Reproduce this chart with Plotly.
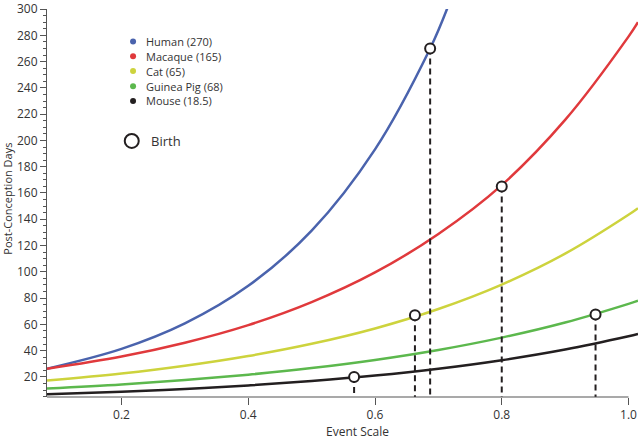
import plotly.graph_objects as go

# ---- data ----
x_vals = [0.0824, 0.2, 0.3, 0.4, 0.5, 0.6, 0.7, 0.8, 0.9, 1.0, 1.015]
human_x = [0.0824, 0.2, 0.3, 0.4, 0.5, 0.6, 0.687, 0.714]
human_y = [26.2, 41.3, 60.7, 89.3, 131.3, 193.2, 270.0, 300.5]
macaque_y = [26.2, 35.5, 46.0, 59.4, 76.9, 99.5, 128.8, 166.0, 215.6, 279.0, 290.0]
cat_y = [17.2, 22.6, 28.5, 35.9, 45.2, 56.9, 71.7, 90.3, 113.8, 143.4, 148.4]
guinea_y = [11.2, 14.3, 17.6, 21.7, 26.7, 32.9, 40.5, 49.9, 61.4, 75.6, 78.0]
mouse_y = [6.7, 8.7, 10.8, 13.5, 16.9, 21.0, 26.2, 32.7, 40.8, 50.9, 52.6]

species = ["Human (270)", "Macaque (165)", "Cat (65)", "Guinea Pig (68)", "Mouse (18.5)"]
colors = ["#4a63ad", "#e0393c", "#cdd33d", "#5cb84d", "#231f20"]

birth_x = [0.687, 0.800, 0.663, 0.948, 0.567]
birth_y = [270.0, 165.0, 67.0, 67.5, 20.0]

y_ticks = list(range(20, 301, 20))
x_ticks = [0.2, 0.4, 0.6, 0.8, 1.0]
x_range = [0.0824, 1.015]
y_range = [4.7, 300.05]

FONT = "Open Sans"
TXT = "#333333"

fig = go.Figure()

series = [(human_x, human_y), (x_vals, macaque_y), (x_vals, cat_y),
          (x_vals, guinea_y), (x_vals, mouse_y)]
for (xs, ys), c, name in zip(series, colors, species):
    fig.add_trace(go.Scatter(x=xs, y=ys, mode="lines", name=name,
                             line=dict(color=c, width=2.5, shape="spline", smoothing=1.0),
                             showlegend=False, hoverinfo="skip", cliponaxis=True))

# dashed drop lines from birth points to the axis
for bx, by in zip(birth_x, birth_y):
    fig.add_trace(go.Scatter(x=[bx, bx], y=[by, y_range[0]], mode="lines",
                             line=dict(color="#231f20", width=2, dash="6px,4px"),
                             showlegend=False, hoverinfo="skip"))

fig.add_trace(go.Scatter(x=birth_x, y=birth_y, mode="markers",
                         marker=dict(symbol="circle", size=10, color="white",
                                     line=dict(color="#231f20", width=2)),
                         showlegend=False, hoverinfo="skip", cliponaxis=False))

shapes = []
annotations = []
# custom legend
legend_y = [0.916, 0.878, 0.840, 0.801, 0.763]
for ly, c, name in zip(legend_y, colors, species):
    shapes.append(dict(type="circle", xref="paper", yref="paper",
                       xsizemode="pixel", ysizemode="pixel",
                       xanchor=0.1456, yanchor=ly, x0=-3, x1=3, y0=-3, y1=3,
                       fillcolor=c, line=dict(width=0)))
    annotations.append(dict(x=0.1634, y=ly, xref="paper", yref="paper",
                            text=name, showarrow=False, xanchor="left", yanchor="middle",
                            font=dict(family=FONT, size=11, color=TXT)))
shapes.append(dict(type="circle", xref="paper", yref="paper",
                   xsizemode="pixel", ysizemode="pixel",
                   xanchor=0.1434, yanchor=0.660, x0=-7, x1=7, y0=-7, y1=7,
                   fillcolor="white", line=dict(color="#231f20", width=2)))
annotations.append(dict(x=0.1727, y=0.660, xref="paper", yref="paper",
                        text="Birth", showarrow=False, xanchor="left", yanchor="middle",
                        font=dict(family=FONT, size=13, color=TXT)))

# x axis line only up to 1.0
shapes.append(dict(type="line", xref="x", yref="paper", x0=x_range[0], x1=1.0,
                   y0=0, y1=0, line=dict(color="#555555", width=1.2)))

annotations.append(dict(x=0.525, y=-0.09, xref="paper", yref="paper",
                        text="Event Scale", showarrow=False, yanchor="middle",
                        font=dict(family=FONT, size=12, color=TXT)))
annotations.append(dict(x=-0.0660, y=0.511, xref="paper", yref="paper",
                        text="Post-Conception Days", showarrow=False, textangle=-90,
                        xanchor="center", yanchor="middle",
                        font=dict(family=FONT, size=11, color=TXT)))

fig.update_layout(
    width=640, height=441,
    margin=dict(l=47, r=2, t=9, b=44),
    paper_bgcolor="white", plot_bgcolor="white",
    shapes=shapes, annotations=annotations,
    font=dict(family=FONT, size=12, color=TXT),
    xaxis=dict(range=x_range, tickvals=x_ticks, ticktext=[f"{v:.1f}" for v in x_ticks],
               ticks="outside", ticklen=7, tickcolor="#555555", tickwidth=1,
               showline=False, showgrid=False, zeroline=False, automargin=False,
               ticklabeloverflow="allow",
               tickfont=dict(family=FONT, size=12, color=TXT)),
    yaxis=dict(range=y_range, tickvals=y_ticks, ticks="outside", ticklen=6,
               tickcolor="#555555", tickwidth=1, showline=True, linecolor="#555555",
               linewidth=1.2, showgrid=False, zeroline=False, automargin=False,
               ticklabeloverflow="allow",
               minor=dict(dtick=5, tick0=0, ticks="outside", ticklen=3,
                          tickcolor="#555555", showgrid=False),
               tickfont=dict(family=FONT, size=12, color=TXT)),
)

post = ("document.documentElement.style.margin='0';document.documentElement.style.padding='0';"
        "document.documentElement.style.overflow='hidden';"
        "document.body.style.margin='0';document.body.style.padding='0';"
        "document.body.style.overflow='hidden';")
fig.write_html("out.html", post_script=post, config={"displayModeBar": False})
